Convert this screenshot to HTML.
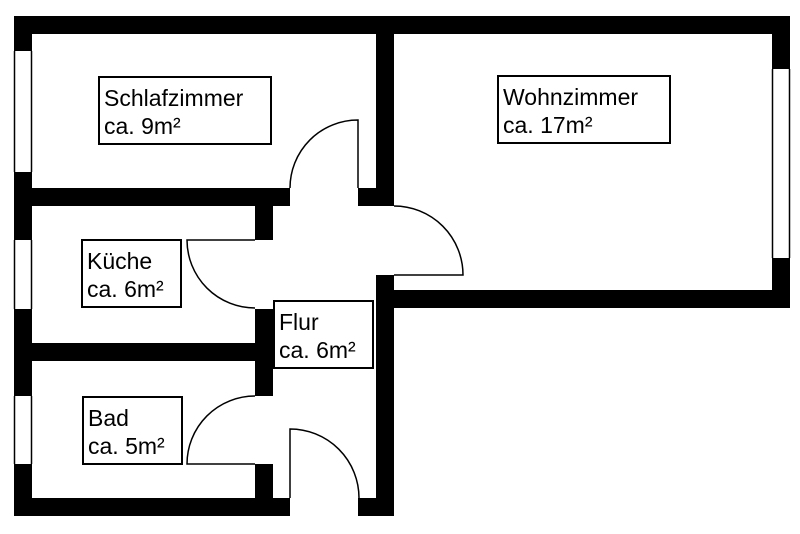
<!DOCTYPE html>
<html><head><style>html,body{margin:0;padding:0;background:#fff;}svg{display:block;}</style></head>
<body>
<svg width="800" height="534" viewBox="0 0 800 534" xmlns="http://www.w3.org/2000/svg">
<rect width="800" height="534" fill="#fff"/>
<g fill="#000">
<rect x="14" y="16" width="776" height="18"/>
<rect x="14" y="16" width="18" height="35"/>
<rect x="14" y="172" width="18" height="68"/>
<rect x="14" y="309" width="18" height="87"/>
<rect x="14" y="464" width="18" height="52"/>
<rect x="772" y="16" width="18" height="53"/>
<rect x="772" y="258" width="18" height="50"/>
<rect x="376" y="290" width="414" height="18"/>
<rect x="376" y="16" width="18" height="190"/>
<rect x="14" y="188" width="276" height="18"/>
<rect x="358" y="188" width="36" height="18"/>
<rect x="255" y="206" width="18" height="34"/>
<rect x="255" y="309" width="18" height="87"/>
<rect x="14" y="343" width="259" height="18"/>
<rect x="255" y="464" width="18" height="52"/>
<rect x="376" y="275" width="18" height="241"/>
<rect x="14" y="498" width="276" height="18"/>
<rect x="358" y="498" width="36" height="18"/>
</g>
<g fill="none" stroke="#000" stroke-width="1.5">
<line x1="14.5" y1="51" x2="14.5" y2="172"/><line x1="31.5" y1="51" x2="31.5" y2="172"/>
<line x1="14.5" y1="240" x2="14.5" y2="309"/><line x1="31.5" y1="240" x2="31.5" y2="309"/>
<line x1="14.5" y1="396" x2="14.5" y2="464"/><line x1="31.5" y1="396" x2="31.5" y2="464"/>
<line x1="772.5" y1="69" x2="772.5" y2="258"/><line x1="789.5" y1="69" x2="789.5" y2="258"/>
<path d="M358 188 V120 A68 68 0 0 0 290 188"/>
<path d="M394 206 A69 69 0 0 1 463 275 H394"/>
<path d="M255 240 H187 A68 68 0 0 0 255 308"/>
<path d="M255 396 A68 68 0 0 0 187 464 H255"/>
<path d="M290 498 V429 A69 69 0 0 1 359 498"/>
</g>
<g fill="#fff" stroke="#000" stroke-width="2">
<rect x="99" y="77" width="172" height="67"/>
<rect x="498" y="76" width="172" height="67"/>
<rect x="82" y="240" width="99" height="67"/>
<rect x="274" y="301" width="99" height="67"/>
<rect x="83" y="397" width="99" height="67"/>
</g>
<g font-family="Liberation Sans, Arial, sans-serif" font-size="23" fill="#000">
<text x="104" y="106">Schlafzimmer</text><text x="104" y="134">ca. 9m²</text>
<text x="503" y="105">Wohnzimmer</text><text x="503" y="133">ca. 17m²</text>
<text x="87" y="269">Küche</text><text x="87" y="297">ca. 6m²</text>
<text x="279" y="330">Flur</text><text x="279" y="358">ca. 6m²</text>
<text x="88" y="426">Bad</text><text x="88" y="454">ca. 5m²</text>
</g>
</svg>
</body></html>
